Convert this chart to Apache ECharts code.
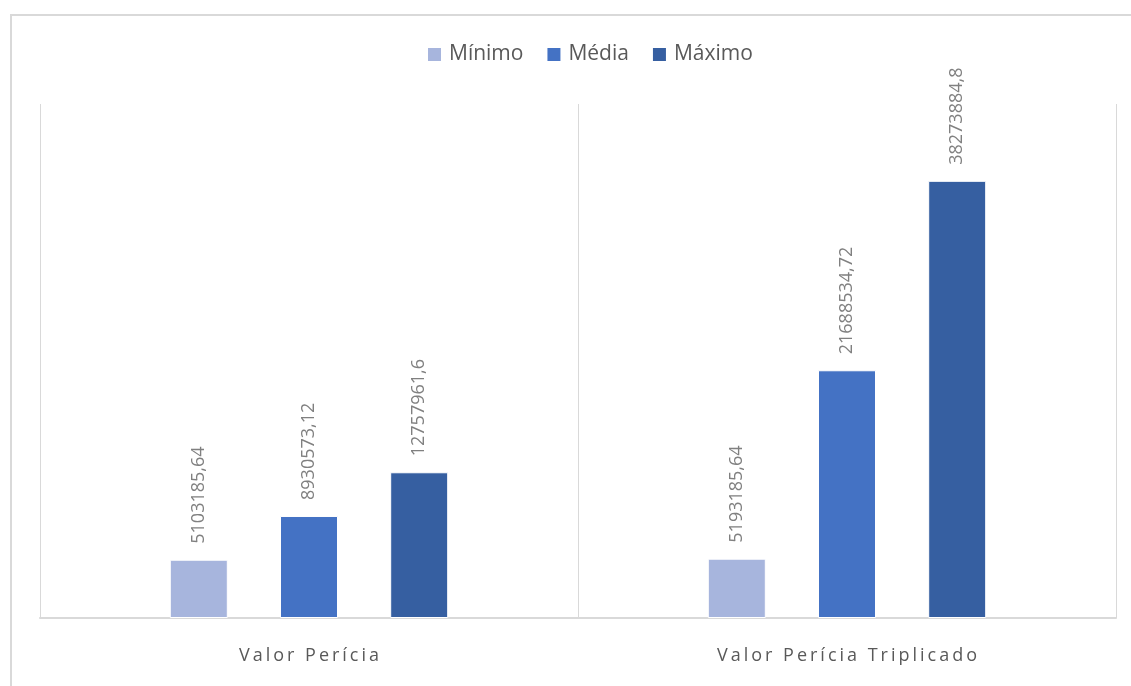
<!DOCTYPE html>
<html>
<head>
<meta charset="utf-8">
<script src="https://cdn.jsdelivr.net/npm/echarts@6/dist/echarts.min.js"></script>
<style>
  html, body { margin: 0; padding: 0; background: #fff; }
  #frame { position: absolute; left: 10px; top: 14px; width: 1200px; height: 800px; border: 2px solid #d9d9d9; box-sizing: border-box; }
  #chart { position: absolute; left: 0; top: 0; width: 1131px; height: 686px; }
</style>
</head>
<body>
<div id="frame"></div>
<div id="chart"></div>
<script>
// categorias e séries
var categorias = ['Valor Perícia', 'Valor Perícia Triplicado'];
var minimo = [5103185.64, 5193185.64];
var media = [8930573.12, 21688534.72];
var maximo = [12757961.6, 38273884.8];
var nomesSeries = ['Mínimo', 'Média', 'Máximo'];
var cores = ['#a7b5dd', '#4472c4', '#365fa1'];

var myChart = echarts.init(document.getElementById('chart'));

// rótulo de valor com vírgula decimal
var rotulo = {
  show: true,
  position: 'top',
  rotate: 90,
  align: 'left',
  verticalAlign: 'middle',
  distance: 16,
  color: '#808080',
  fontSize: 18,
  fontFamily: 'Open Sans',
  formatter: function (p) {
    return String(p.value).replace('.', ',');
  }
};

function serie(nome, dados, cor) {
  return {
    name: nome,
    type: 'bar',
    data: dados,
    barWidth: 58,
    barGap: '90%',
    itemStyle: { color: cor, borderColor: '#fff', borderWidth: 1 },
    label: rotulo
  };
}

var option = {
  animation: false,
  color: cores,
  legend: {
    top: 39,
    left: 421,
    icon: 'rect',
    itemWidth: 15,
    itemHeight: 15,
    itemGap: 22,
    textStyle: { color: '#595959', fontSize: 21, fontFamily: 'Open Sans', padding: [0, 0, 0, 2] },
    data: nomesSeries
  },
  grid: { left: 40, right: 15, top: 104, bottom: 68 },
  xAxis: {
    type: 'category',
    data: categorias,
    axisTick: { show: false },
    axisLine: { lineStyle: { color: '#d9d9d9', width: 2 } },
    splitLine: { show: true, lineStyle: { color: '#d9d9d9', width: 1 } },
    axisLabel: {
      color: '#595959',
      fontSize: 18,
      fontFamily: 'Open Sans',
      margin: 29,
      formatter: function (v) { return v.split('').join('\u2009'); }
    }
  },
  yAxis: {
    type: 'value',
    min: 0,
    max: 45000000,
    show: false,
    splitLine: { show: false }
  },
  series: [
    serie(nomesSeries[0], minimo, cores[0]),
    serie(nomesSeries[1], media, cores[1]),
    serie(nomesSeries[2], maximo, cores[2])
  ]
};

myChart.setOption(option);
</script>
</body>
</html>
